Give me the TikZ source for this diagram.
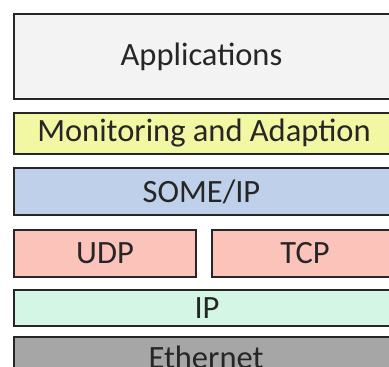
\documentclass[tikz,border=0pt]{standalone}
\usepackage{fontspec}
\setmainfont{Carlito}
\definecolor{appc}{HTML}{F3F3F3}
\definecolor{monc}{HTML}{F1F7A2}
\definecolor{somec}{HTML}{BFD0EA}
\definecolor{tpc}{HTML}{FCC3BA}
\definecolor{ipc}{HTML}{D3F7E4}
\definecolor{ethc}{HTML}{A6A6A6}
\tikzset{layer/.style={draw=black!85, line width=1.4pt, inner sep=0pt, font=\fontsize{32.5}{32.5}\selectfont, text=black!85}}
\begin{document}
\begin{tikzpicture}[x=1pt,y=-1pt]
\useasboundingbox (0,0) rectangle (389,367);
\fill[white] (0,0) rectangle (389,367);
\draw[layer, fill=appc] (14,14) rectangle (395,99);
\node[layer, draw=none] (app) at (201.5,56.5) {Applications};
\draw[layer, fill=monc] (14,113) rectangle (395,154);
\node[layer, draw=none] (mon) at (204,133.5) {Monitoring and Adaption};
\draw[layer, fill=somec] (14,168) rectangle (395,215);
\node[layer, draw=none] (some) at (201.5,191.5) {SOME/IP};
\draw[layer, fill=tpc] (14,230) rectangle (196,277);
\node[layer, draw=none] (udp) at (105,253.5) {UDP};
\draw[layer, fill=tpc] (212,230) rectangle (395,277);
\node[layer, draw=none] (tcp) at (305,253.5) {TCP};
\draw[layer, fill=ipc] (14,290) rectangle (395,326);
\node[layer, draw=none] (ip) at (207,308) {IP};
\draw[layer, fill=ethc] (14,337) rectangle (395,375);
\node[layer, draw=none] (eth) at (206,357) {Ethernet};
\end{tikzpicture}
\end{document}
